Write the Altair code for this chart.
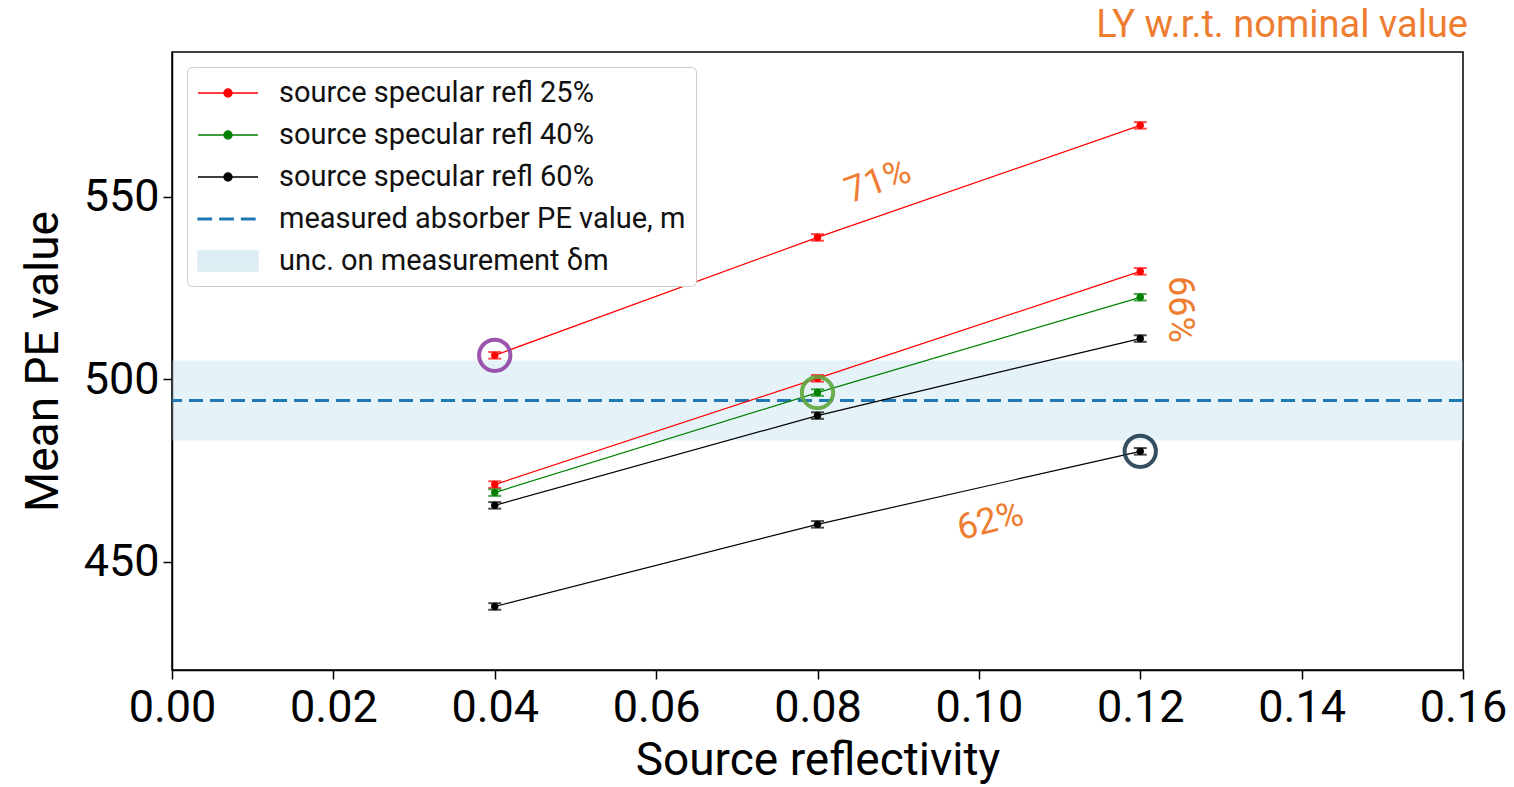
import altair as alt
import pandas as pd

# ---------------- data ----------------
x_vals = [0.04, 0.08, 0.12]

line_ids = ["red_71", "red_66", "green_66", "black_66", "black_62"]
line_colors = ["#ff0000", "#ff0000", "#008000", "#000000", "#000000"]
red_71 = [506.6, 538.9, 569.6]
red_66 = [471.2, 500.3, 529.6]
green_66 = [469.0, 496.4, 522.5]
black_66 = [465.5, 490.1, 511.2]
black_62 = [437.8, 460.3, 480.3]
series_vals = [red_71, red_66, green_66, black_66, black_62]
err_val = 0.9

m_value = 494.2
m_low = 483.3
m_high = 505.2

hl_x = [0.04, 0.08, 0.12]
hl_y = [506.6, 496.4, 480.3]
hl_color = ["#9242a6", "#5fa63f", "#1f3d4f"]

ann_text = ["71%", "66%", "62%"]
ann_x = [0.0875, 0.1249, 0.1014]
ann_y = [554.2, 519.2, 461.1]
ann_angle = [340, 90, 346]

legend_labels = [
    "source specular refl 25%",
    "source specular refl 40%",
    "source specular refl 60%",
    "measured absorber PE value, m",
    "unc. on measurement δm",
]
legend_fill = ["#ff0000", "#008000", "#000000", "#1f77b4", "#dceef4"]
legend_stroke = ["#ff0000", "#008000", "#000000", "#1f77b4", "#dceef4"]
LINE_DOT = "M-1,0L3,0M0.73,0A0.27,0.27 0 1,0 1.27,0A0.27,0.27 0 1,0 0.73,0Z"
DASHED = ("M-1,-0.05L-0.1,-0.05L-0.1,0.05L-1,0.05Z"
          "M0.45,-0.05L1.35,-0.05L1.35,0.05L0.45,0.05Z"
          "M1.9,-0.05L2.8,-0.05L2.8,0.05L1.9,0.05Z")
BAND = "M-1,-0.67L3,-0.67L3,0.67L-1,0.67Z"
legend_shapes = [LINE_DOT, LINE_DOT, LINE_DOT, DASHED, BAND]

# ---------------- tables ----------------
rows = []
for lid, col, vals in zip(line_ids, line_colors, series_vals):
    for xv, yv in zip(x_vals, vals):
        rows.append({"line": lid, "color": col, "x": xv, "y": yv,
                     "lo": yv - err_val, "hi": yv + err_val})
df = pd.DataFrame(rows)
hl_df = pd.DataFrame({"x": hl_x, "y": hl_y, "color": hl_color})
ann_df = pd.DataFrame({"text": ann_text, "x": ann_x, "y": ann_y, "angle": ann_angle})
m_df = pd.DataFrame({"m": [m_value], "lo": [m_low], "hi": [m_high]})
leg_df = pd.DataFrame({"label": legend_labels})

W, H = 1291, 618
xscale = alt.Scale(domain=[0, 0.16], nice=False, zero=False)
yscale = alt.Scale(domain=[420.4, 589.7], nice=False, zero=False)
xaxis = alt.Axis(values=[0, 0.02, 0.04, 0.06, 0.08, 0.10, 0.12, 0.14, 0.16],
                 format=".2f", title="Source reflectivity", labelPadding=6,
                 titlePadding=8, labelFlush=False, labelOverlap=False)
yaxis = alt.Axis(values=[450, 500, 550], title="Mean PE value",
                 labelPadding=4, titlePadding=16, labelFlush=False,
                 labelOverlap=False)

X = alt.X("x:Q", scale=xscale, axis=xaxis)
Y = alt.Y("y:Q", scale=yscale, axis=yaxis)

band = alt.Chart(m_df).mark_rect(fill="#add8e6", opacity=0.32).encode(
    y=alt.Y("lo:Q", scale=yscale, axis=yaxis), y2="hi:Q")
mline = alt.Chart(m_df).mark_rule(color="#1f77b4", strokeWidth=3,
                                  strokeDash=[14, 7]).encode(
    y=alt.Y("m:Q", scale=yscale, axis=yaxis))

lines = alt.Chart(df).mark_line(strokeWidth=1.2).encode(
    x=X, y=Y, detail="line:N", color=alt.Color("color:N", scale=None))
ebars = alt.Chart(df).mark_rule(strokeWidth=2).encode(
    x=X, y=alt.Y("lo:Q", scale=yscale, axis=yaxis), y2="hi:Q",
    color=alt.Color("color:N", scale=None))
cap_lo = alt.Chart(df).mark_tick(orient="horizontal", size=13, thickness=2).encode(
    x=X, y=alt.Y("lo:Q", scale=yscale, axis=yaxis),
    color=alt.Color("color:N", scale=None))
cap_hi = alt.Chart(df).mark_tick(orient="horizontal", size=13, thickness=2).encode(
    x=X, y=alt.Y("hi:Q", scale=yscale, axis=yaxis),
    color=alt.Color("color:N", scale=None))
points = alt.Chart(df).mark_point(filled=True, size=55, opacity=1).encode(
    x=X, y=Y, color=alt.Color("color:N", scale=None))

highlights = alt.Chart(hl_df).mark_point(shape="circle", filled=False, size=980,
                                         strokeWidth=4, opacity=0.9).encode(
    x=X, y=Y, color=alt.Color("color:N", scale=None))

annotations = alt.Chart(ann_df).mark_text(font="Roboto", fontSize=36,
                                          color="#ED7D31", align="center",
                                          baseline="middle").encode(
    x=X, y=Y, text="text:N", angle=alt.Angle("angle:Q", scale=None))

legend = alt.Legend(orient="none", legendX=15, legendY=15, title=None,
                    padding=10, strokeColor="#cccccc", fillColor="white",
                    cornerRadius=5, rowPadding=11, labelFontSize=29,
                    labelFont="Roboto", labelColor="#111111", symbolSize=900,
                    labelOffset=50, symbolStrokeWidth=1.3, symbolOpacity=1,
                    labelLimit=1000)
legend_layer = alt.Chart(leg_df).mark_point(filled=True, opacity=0).encode(
    x=alt.value(0), y=alt.value(0),
    fill=alt.Fill("label:N", scale=alt.Scale(domain=legend_labels, range=legend_fill),
                  legend=legend),
    stroke=alt.Stroke("label:N", scale=alt.Scale(domain=legend_labels, range=legend_stroke),
                      legend=legend),
    shape=alt.Shape("label:N", scale=alt.Scale(domain=legend_labels, range=legend_shapes),
                    legend=legend),
)

chart = alt.layer(band, mline, lines, ebars, cap_lo, cap_hi, points, highlights,
                  annotations, legend_layer).properties(
    width=W, height=H,
    autosize=alt.AutoSizeParams(type="none"),
    padding={"left": 164, "top": 44, "right": 43, "bottom": 115},
    title=alt.TitleParams(text="LY w.r.t. nominal value", anchor="end",
                          frame="group", color="#ED7D31", fontSize=38,
                          font="Roboto", fontWeight="normal",
                          offset=5, dx=5),
).configure_view(stroke="black", strokeWidth=1.5).configure_axis(
    labelFont="Roboto", titleFont="Roboto", labelFontSize=45, titleFontSize=46,
    labelColor="black", titleColor="black", titleFontWeight="normal",
    tickColor="black", tickSize=9, tickWidth=1.5, domainColor="black",
    domainWidth=1.5, grid=False)

chart.save("out.html", embed_options={"renderer": "svg", "actions": False})
